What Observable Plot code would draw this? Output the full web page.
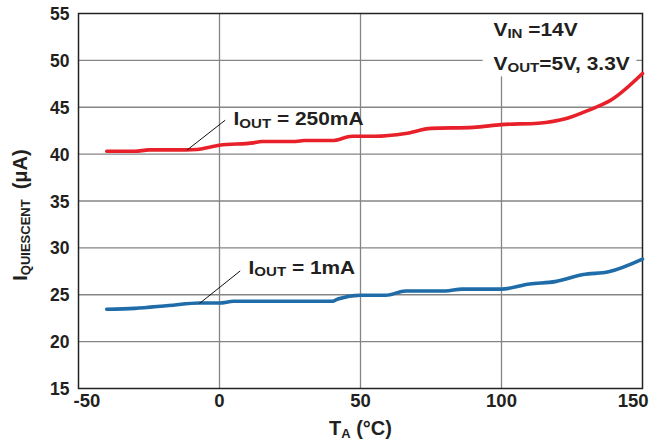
<!DOCTYPE html>
<html><head><meta charset="utf-8">
<script src="https://cdn.jsdelivr.net/npm/d3@7"></script>
<script src="https://cdn.jsdelivr.net/npm/@observablehq/plot@0.6"></script>
<style>body{margin:0;background:#fff} svg{display:block}</style>
</head><body><div id="chart"></div>
<script>
// Series: I_OUT = 250mA (red)
const tempRed = [-40, -30, -25, -12, -8, 0, 12, 15, 27, 30, 40, 47, 55, 66, 75, 90, 100, 113, 123, 131, 139, 150];
const iqRed   = [40.3, 40.3, 40.45, 40.45, 40.5, 40.95, 41.2, 41.35, 41.35, 41.45, 41.45, 41.9, 41.9, 42.2, 42.75, 42.85, 43.15, 43.3, 43.8, 44.7, 45.8, 48.6];
// Series: I_OUT = 1mA (blue)
const tempBlue = [-40, -30, -18, -7, 0, 5, 40, 42, 50, 59, 66, 80, 86, 100, 110, 119, 129, 138, 150];
const iqBlue   = [23.45, 23.55, 23.85, 24.12, 24.12, 24.3, 24.3, 24.55, 24.95, 24.95, 25.4, 25.4, 25.6, 25.6, 26.15, 26.4, 27.15, 27.45, 28.8];

const xTicks = [-50, 0, 50, 100, 150];
const yTicks = [15, 20, 25, 30, 35, 40, 45, 50, 55];
const xGrid = [0, 50, 100];
const yGrid = [20, 25, 30, 35, 40, 45, 50];

const annoText = ["I_{OUT} = 250mA", "I_{OUT} = 1mA", "V_{IN} =14V", "V_{OUT}=5V, 3.3V"];
const annoX = [4.96, 10.28, 97.16, 97.16];
const annoY = [43.69, 27.84, 53.25, 49.62];
const leaderX1 = [2.02, 7.34], leaderY1 = [43.62, 27.54];
const leaderX2 = [-11.56, -7.09], leaderY2 = [40.42, 24.07];
const boxX = [93.5, 148], boxY = [48.24, 55];

const xTitle = "T_{A} (°C)";
const yTitle = "I_{QUIESCENT}\u2002(μA)";
const yTitlePos = {x: -70.7, y: 33.5};

const FONT = "Liberation Sans, Arial, Helvetica, sans-serif";
const red = "#e8202a", blue = "#1f6ca8";

const redData = tempRed.map((t, i) => ({t, v: iqRed[i]}));
const blueData = tempBlue.map((t, i) => ({t, v: iqBlue[i]}));

const chart = Plot.plot({
  width: 663, height: 448,
  marginLeft: 78, marginRight: 21, marginTop: 13, marginBottom: 60,
  x: {domain: [-50, 150], axis: null},
  y: {domain: [15, 55], axis: null},
  style: {background: "white", fontFamily: FONT, overflow: "visible"},
  marks: [
    Plot.ruleX(xGrid, {x: d => d, stroke: "#858585", strokeWidth: 1.3}),
    Plot.ruleY(yGrid, {y: d => d, stroke: "#858585", strokeWidth: 1.3}),
    Plot.rect([0], {x1: () => boxX[0], x2: () => boxX[1], y1: () => boxY[0], y2: () => boxY[1], fill: "white"}),
    Plot.frame({stroke: "#222", strokeWidth: 1.5}),
    Plot.line(redData, {x: "t", y: "v", stroke: red, strokeWidth: 3.6, curve: "monotone-x"}),
    Plot.line(blueData, {x: "t", y: "v", stroke: blue, strokeWidth: 3.6, curve: "monotone-x"}),
    Plot.link(d3.range(leaderX1.length), {x1: i => leaderX1[i], y1: i => leaderY1[i], x2: i => leaderX2[i], y2: i => leaderY2[i], stroke: "#111", strokeWidth: 1}),
    Plot.text(d3.range(annoText.length), {x: i => annoX[i], y: i => annoY[i], text: i => annoText[i], textAnchor: "start", fontSize: 18, fontWeight: "bold", fontFamily: FONT, fill: "#231f20"}),
    // y tick labels
    Plot.text(yTicks, {y: d => d, text: d => String(d), frameAnchor: "left", textAnchor: "end", dx: -9, dy: 1, fontSize: 17.5, fontWeight: "bold", fontFamily: FONT, fill: "#231f20"}),
    // x tick labels
    Plot.text(xTicks.slice(1, -1), {x: d => d, text: d => String(d), frameAnchor: "bottom", dy: 18.4, fontSize: 18.5, fontWeight: "bold", fontFamily: FONT, fill: "#231f20"}),
    Plot.text(xTicks.slice(0, 1), {x: d => d, text: d => String(d), frameAnchor: "bottom", textAnchor: "start", dx: -5, dy: 18.4, fontSize: 18.5, fontWeight: "bold", fontFamily: FONT, fill: "#231f20"}),
    Plot.text(xTicks.slice(-1), {x: d => d, text: d => String(d), frameAnchor: "bottom", textAnchor: "end", dx: 6, dy: 18.4, fontSize: 18.5, fontWeight: "bold", fontFamily: FONT, fill: "#231f20"}),
    // axis titles
    Plot.text([xTitle], {frameAnchor: "bottom", dy: 46.5, fontSize: 20, fontWeight: "bold", fontFamily: FONT, fill: "#231f20"}),
    Plot.text([yTitle], {x: () => yTitlePos.x, y: () => yTitlePos.y, rotate: -90, fontSize: 20, fontWeight: "bold", fontFamily: FONT, fill: "#231f20"})
  ]
});
document.getElementById("chart").appendChild(chart);

// Rich text: subscripts written as _{...}
const NS = "http://www.w3.org/2000/svg";
function richify(el, subSize, shift) {
  const s = el.textContent;
  if (!s.includes("_{")) return false;
  const parts = [];
  const re = /_\{([^}]*)\}/g; let last = 0, m;
  while ((m = re.exec(s))) {
    if (m.index > last) parts.push({t: s.slice(last, m.index)});
    parts.push({t: m[1], sub: true});
    last = re.lastIndex;
  }
  if (last < s.length) parts.push({t: s.slice(last)});
  el.textContent = "";
  let down = false;
  for (const p of parts) {
    const ts = document.createElementNS(NS, "tspan");
    ts.textContent = p.t;
    if (p.sub) { ts.setAttribute("font-size", subSize); ts.setAttribute("dy", shift); down = true; }
    else if (down) { ts.setAttribute("dy", -shift); down = false; }
    el.appendChild(ts);
  }
  return true;
}
const stretchSet = new Set(annoText);
chart.querySelectorAll("text").forEach(el => {
  const raw = el.textContent;
  const isAnno = stretchSet.has(raw);
  const isTitle = raw === xTitle || raw === yTitle;
  if (isAnno) richify(el, 13, 2.5);
  else if (isTitle) richify(el, 13, 3);
  if (isAnno) {
    const len = el.getComputedTextLength();
    el.setAttribute("textLength", (len * 1.16).toFixed(1));
    el.setAttribute("lengthAdjust", "spacingAndGlyphs");
  }
});
</script>
</body></html>
